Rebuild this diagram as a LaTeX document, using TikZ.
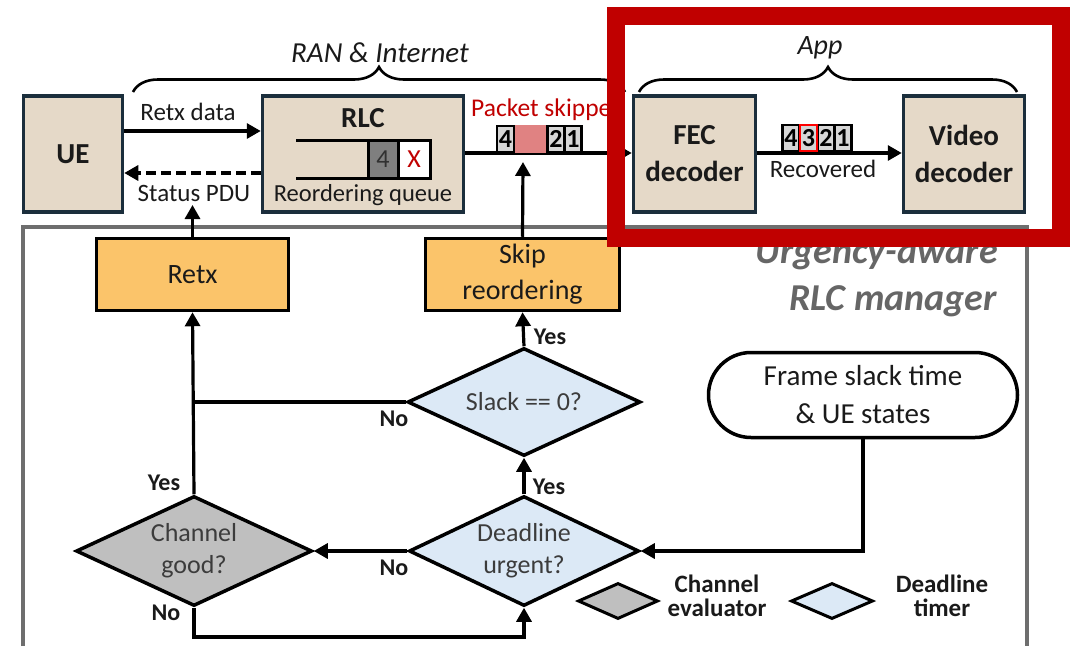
\documentclass[tikz,border=0pt]{standalone}
\usepackage{fontspec}
\setmainfont{Carlito}
\usetikzlibrary{arrows.meta,shapes.geometric,shapes.misc,decorations.pathreplacing}

\definecolor{boxfill}{HTML}{E5D9C8}
\definecolor{boxline}{HTML}{1B2E3C}
\definecolor{actfill}{HTML}{FBC46A}
\definecolor{chanfill}{HTML}{BFBFBF}
\definecolor{timefill}{HTML}{DCE9F6}
\definecolor{hlred}{HTML}{C00000}
\definecolor{skipfill}{HTML}{E08282}
\definecolor{framegray}{HTML}{6E6E6E}
\definecolor{mgrtext}{HTML}{666666}
\definecolor{pktfill}{HTML}{D6D6D6}
\definecolor{qgray}{HTML}{7F7F7F}
\definecolor{ink}{HTML}{1A1A1A}

\newcommand\fsz[2]{\fontsize{#1pt}{#2pt}\selectfont}

\begin{document}
\begin{tikzpicture}[x=1pt,y=-1pt,
  blockbox/.style={rectangle, draw=boxline, fill=boxfill, line width=3.5pt, inner sep=0pt,
    font=\fsz{29}{37}\bfseries, align=center, text=ink},
  actbox/.style={rectangle, draw=black, fill=actfill, line width=3.5pt, inner sep=0pt,
    font=\fsz{28}{36}, align=center, text=ink},
  decision/.style={diamond, draw=black, line width=3.5pt, inner sep=0pt},
  dtext/.style={inner sep=0pt, font=\fsz{26}{32}, align=center, text=ink!85},
  flow/.style={line width=3.2pt, -{Triangle[length=14pt,width=15pt]}},
  plain/.style={line width=3.2pt},
  tag/.style={font=\fsz{24}{26}\bfseries, inner sep=0pt, text=ink},
  lbl/.style={font=\fsz{25}{27}, inner sep=0pt, text=ink},
  pkt/.style={rectangle, draw=black, fill=pktfill, line width=2.6pt, minimum width=17pt,
    minimum height=26pt, inner sep=0pt, font=\fsz{26}{26}\bfseries, text=black},
  qcell/.style={rectangle, draw=black, line width=3pt, minimum height=37.5pt,
    inner sep=0pt, font=\fsz{26}{26}},
  bracedeco/.style={line width=2.6pt, decorate, decoration={brace, amplitude=25pt}},
  legend/.style={diamond, draw=black, line width=3pt, inner sep=0pt,
    minimum height=36pt},
  legtext/.style={inner sep=0pt, font=\fsz{25}{23.5}\bfseries, align=center, text=ink}
]
\useasboundingbox (0,0) rectangle (1074,646);

% manager frame and its title
\draw[framegray, line width=4pt] (23,646) -- (23,226.5) -- (1027,226.5) -- (1027,646);
\node[anchor=base east, inner sep=0pt, font=\fsz{38}{38}\bfseries\itshape, text=mgrtext] (urg1) at (998,263) {Urgency-aware};
\node[anchor=base east, inner sep=0pt, font=\fsz{38}{38}\bfseries\itshape, text=mgrtext] (urg2) at (997,310) {RLC manager};

% top row blocks
\node[blockbox, minimum width=99pt, minimum height=116pt] (ue) at (73,154) {UE};
\node[blockbox, minimum width=201pt, minimum height=116pt] (rlc) at (363,154) {};
\node[blockbox, minimum width=122pt, minimum height=116pt] (fec) at (694.5,154) {FEC\\decoder};
\node[blockbox, minimum width=121pt, minimum height=116pt] (vid) at (964,154) {Video\\decoder};

% RLC contents: title and reordering queue
\node[inner sep=0pt, font=\fsz{29}{29}\bfseries, text=ink] (rlct) at (363,118) {RLC};
\draw[line width=3pt] (296,140.5) -- (430,140.5) -- (430,178) -- (296,178);
\node[qcell, fill=qgray, minimum width=30pt, text=ink!90] (q4) at (383,159.25) {4};
\node[qcell, fill=white, minimum width=32pt, text=hlred] (qx) at (414,159.25) {X};
\node[lbl, font=\fsz{24.5}{26}] (rq) at (363,195) {Reordering queue};

% UE <-> RLC
\draw[flow] (ue.east |- 0,131) -- (rlc.west |- 0,131);
\node[lbl] (retxd) at (188,112) {Retx data};
\draw[flow, dash pattern=on 10pt off 5pt] (rlc.west |- 0,173) -- (ue.east |- 0,173);
\node[lbl] (spdu) at (194,193) {Status PDU};

% RLC -> FEC with skipped packet
\draw[flow] (rlc.east |- 0,153) -- (fec.west |- 0,153);
\node[pkt] (p4) at (505.5,139) {4};
\node[rectangle, fill=skipfill, minimum width=32pt, minimum height=28.6pt, inner sep=0pt] (pskip) at (531,139) {};
\node[pkt] (p2) at (556,139) {2};
\node[pkt] (p1) at (573,139) {1};
\node[lbl, font=\fsz{25.5}{27}, text=hlred] (pskt) at (548,110) {Packet skipped};

% FEC -> Video with recovered packets
\draw[flow] (fec.east |- 0,153) -- (vid.west |- 0,153);
\node[pkt] (r4) at (791,138) {4};
\node[pkt] (r2) at (826,138) {2};
\node[pkt] (r1) at (843,138) {1};
\node[pkt, draw=red, line width=2.2pt] (r3) at (808.5,138) {3};
\node[lbl] (recov) at (823,169) {Recovered};

% braces
\coordinate (ranl) at (133,92);
\coordinate (ranr) at (625,92);
\draw[bracedeco] (ranl) -- (ranr);
\node[inner sep=0pt, font=\fsz{29}{29}\itshape, text=ink] (rant) at (380,53) {RAN \& Internet};
\coordinate (appl) at (639,92);
\coordinate (appr) at (1017,92);
\draw[bracedeco] (appl) -- (appr);
\node[inner sep=0pt, font=\fsz{28}{28}\itshape, text=ink] (appt) at (820,48) {App};

% actions
\node[actbox, minimum width=192pt, minimum height=72pt] (retx) at (192.5,274.5) {Retx};
\node[actbox, minimum width=194pt, minimum height=72pt] (skip) at (522.5,274.5) {Skip\\reordering};

% decisions
\node[decision, fill=timefill, minimum width=233pt, minimum height=108pt] (slack) at (524,402) {};
\node[dtext] (slackt) at (slack.center) {Slack == 0?};
\node[decision, fill=chanfill, minimum width=236pt, minimum height=110pt] (chan) at (194,551) {};
\node[dtext] (chant) at (chan.center) {Channel\\good?};
\node[decision, fill=timefill, minimum width=230pt, minimum height=110pt] (dead) at (524,551) {};
\node[dtext] (deadt) at (dead.center) {Deadline\\urgent?};

% input state
\node[rounded rectangle, draw=black, line width=3.5pt, minimum width=309pt, minimum height=85pt,
  inner sep=0pt, font=\fsz{29}{38}, align=center, text=ink] (pill) at (863,395) {Frame slack time\\\& UE states};

% flow connectors
\coordinate (statustip) at (192.5,205);
\draw[flow] (retx.north) -- (statustip);
\coordinate (skiptip) at (523,162);
\draw[flow] (skip.north) -- (skiptip);
\draw[flow] (slack.north) -- (skip.south);
\draw[flow] (chan.north) -- (retx.south);
\draw[plain] (slack.west) -- (slack.west -| retx.south);
\draw[flow] (dead.north) -- (slack.south);
\draw[flow] (dead.west) -- (chan.east);
\draw[flow] (chan.south) -- (chan.south |- 0,637) -| (dead.south);
\draw[flow] (pill.south) |- (dead.east);

% branch labels
\node[tag] (y1) at (550,337) {Yes};
\node[tag] (n1) at (394,419) {No};
\node[tag] (y2) at (164,483) {Yes};
\node[tag] (y3) at (549,487) {Yes};
\node[tag] (n2) at (394,568) {No};
\node[tag] (n3) at (166,613) {No};

% legend
\node[legend, fill=chanfill, minimum width=80pt] (legc) at (618,601) {};
\node[legtext] (legct) at (717,596) {Channel\\evaluator};
\node[legend, fill=timefill, minimum width=82pt] (legt) at (832,601) {};
\node[legtext] (legtt) at (942,596) {Deadline\\timer};

% highlight around the application side
\draw[hlred, line width=18pt] (615.5,16) rectangle (1061,237.5);
\end{tikzpicture}
\end{document}
